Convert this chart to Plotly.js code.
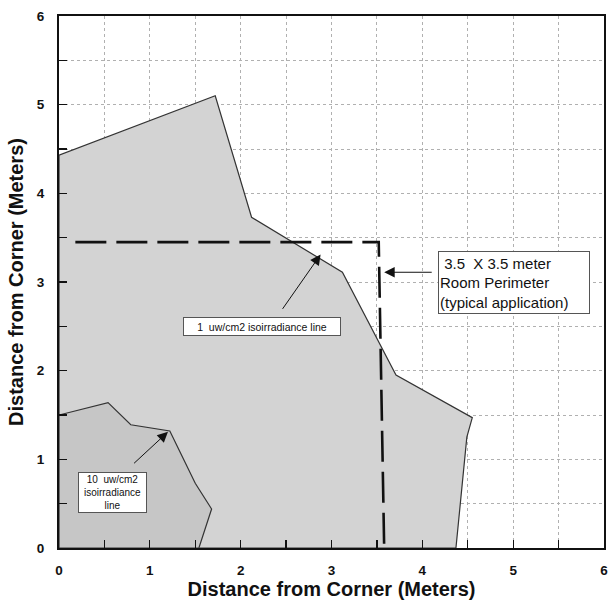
<!DOCTYPE html>
<html>
<head>
<meta charset="utf-8">
<script src="https://cdn.plot.ly/plotly-3.0.1.min.js"></script>
<style>html,body{margin:0;padding:0;background:#fff;}#chart{width:613px;height:603px;}</style>
</head>
<body>
<div id="chart"></div>
<script>
// 1 uw/cm2 isoirradiance contour (meters)
var oneX = [0, 1.72, 2.12, 3.12, 3.71, 4.55, 4.49, 4.37, 0, 0];
var oneY = [4.43, 5.10, 3.73, 3.11, 1.95, 1.47, 1.25, 0, 0, 4.43];
// 10 uw/cm2 isoirradiance contour (meters)
var tenX = [0, 0.54, 0.79, 1.22, 1.50, 1.68, 1.54, 0, 0];
var tenY = [1.50, 1.64, 1.39, 1.32, 0.73, 0.44, 0, 0, 1.50];
// 3.5 x 3.5 m room perimeter
var roomX = [0.18, 3.52, 3.58];
var roomY = [3.45, 3.45, 0];
// arrows: tail -> head
var arrowTailX = [2.45, 0.81, 4.12];
var arrowTailY = [2.68, 0.94, 3.11];
var arrowHeadX = [2.88, 1.20, 3.58];
var arrowHeadY = [3.31, 1.31, 3.11];
// labels
var labelText = [
  '1\u00a0\u00a0uw/cm2 isoirradiance line',
  '10\u00a0\u00a0uw/cm2<br>isoirradiance<br>line',
  '\u00a03.5\u00a0\u00a0X 3.5 meter<br>Room Perimeter<br>(typical application)'
];
var labelX = [2.24, 0.585, 5.01];
var labelY = [2.50, 0.63, 3.00];
var tickVals = [0, 1, 2, 3, 4, 5, 6];
var tickText = ['0', '1', '2', '3', '4', '5', '6'];

var FONT = 'Liberation Sans, Arial, sans-serif';

var traces = [
  {x: oneX, y: oneY, mode: 'lines', fill: 'toself', fillcolor: '#d3d3d3',
   line: {color: '#333', width: 1.2}, hoverinfo: 'skip', showlegend: false},
  {x: tenX, y: tenY, mode: 'lines', fill: 'toself', fillcolor: '#c6c6c6',
   line: {color: '#333', width: 1.2}, hoverinfo: 'skip', showlegend: false},
  {x: roomX, y: roomY, mode: 'lines',
   line: {color: '#111', width: 2.6, dash: '31px,10px'}, hoverinfo: 'skip', showlegend: false}
];

var annotations = [];
for (var i = 0; i < arrowTailX.length; i++) {
  annotations.push({
    x: arrowHeadX[i], y: arrowHeadY[i], xref: 'x', yref: 'y',
    ax: arrowTailX[i], ay: arrowTailY[i], axref: 'x', ayref: 'y',
    text: '', showarrow: true, arrowhead: 2, arrowsize: 2.1, arrowwidth: 1,
    arrowcolor: '#111', standoff: 0, startstandoff: 0
  });
}
var boxSpecs = [
  {size: 10.5, width: 154, height: 15, align: 'center'},
  {size: 10, width: 65, height: null, align: 'center'},
  {size: 15, width: 148, height: 59, align: 'left'}
];
for (var j = 0; j < labelText.length; j++) {
  var a = {
    x: labelX[j], y: labelY[j], xref: 'x', yref: 'y', showarrow: false,
    text: labelText[j], align: boxSpecs[j].align,
    font: {family: FONT, size: boxSpecs[j].size, color: '#111'},
    bgcolor: '#fff', bordercolor: '#555', borderwidth: 1, borderpad: 1,
    width: boxSpecs[j].width
  };
  if (boxSpecs[j].height) a.height = boxSpecs[j].height;
  annotations.push(a);
}

function axis(titleText, standoffTitle, tls) {
  return {
    range: [0, 6], autorange: false, fixedrange: true,
    tickmode: 'array', tickvals: tickVals, ticktext: tickText,
    ticks: 'inside', ticklen: 8, tickwidth: 1.3, tickcolor: '#111',
    tickfont: {family: FONT, size: 13.5, color: '#111', weight: 'bold'},
    ticklabelstandoff: tls,
    showline: true, linecolor: '#111', linewidth: 2, mirror: true,
    showgrid: true, gridcolor: '#b0b0b0', gridwidth: 1, griddash: 'dot',
    zeroline: false,
    minor: {dtick: 0.5, tick0: 0, ticks: 'inside', ticklen: 8, tickcolor: '#111',
            showgrid: true, gridcolor: '#b0b0b0', gridwidth: 1, griddash: 'dot'},
    title: {text: titleText, standoff: standoffTitle,
            font: {family: FONT, size: 20, color: '#111', weight: 'bold'}}
  };
}

var layout = {
  width: 613, height: 603,
  margin: {l: 59, r: 9, t: 16, b: 55},
  paper_bgcolor: '#fff', plot_bgcolor: '#fff',
  xaxis: axis('Distance from Corner (Meters)', 2, 9),
  yaxis: axis('Distance from Corner (Meters)', 8, 10),
  annotations: annotations,
  showlegend: false
};

Plotly.newPlot('chart', traces, layout, {staticPlot: true, displayModeBar: false});
</script>
</body>
</html>
